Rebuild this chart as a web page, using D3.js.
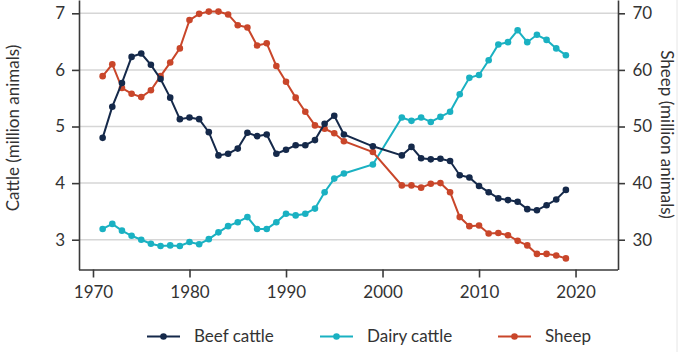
<!DOCTYPE html>
<html>
<head>
<meta charset="utf-8">
<script src="https://cdn.jsdelivr.net/npm/d3@7"></script>
<style>
  html, body { margin: 0; padding: 0; background: #fff; }
  svg { display: block; font-family: Lato, "Open Sans", sans-serif; }
</style>
</head>
<body>
<svg id="chart" width="679" height="352"></svg>
<script>
const years = [1971,1972,1973,1974,1975,1976,1977,1978,1979,1980,1981,1982,1983,1984,1985,1986,1987,1988,1989,1990,1991,1992,1993,1994,1995,1996,1999,2002,2003,2004,2005,2006,2007,2008,2009,2010,2011,2012,2013,2014,2015,2016,2017,2018,2019];
const beefCattle = [4.80,5.35,5.77,6.23,6.29,6.09,5.84,5.51,5.13,5.16,5.13,4.90,4.49,4.52,4.61,4.89,4.83,4.86,4.52,4.59,4.67,4.67,4.76,5.05,5.19,4.86,4.65,4.49,4.64,4.44,4.42,4.43,4.39,4.14,4.10,3.95,3.84,3.73,3.70,3.67,3.54,3.52,3.61,3.71,3.88];
const dairyCattle = [3.19,3.28,3.16,3.07,3.00,2.93,2.89,2.90,2.89,2.96,2.92,3.01,3.13,3.24,3.31,3.40,3.19,3.19,3.31,3.46,3.43,3.46,3.55,3.84,4.08,4.17,4.33,5.16,5.10,5.16,5.08,5.17,5.26,5.57,5.86,5.91,6.17,6.45,6.49,6.70,6.49,6.62,6.53,6.38,6.26];
const sheep = [58.9,61.0,56.8,55.8,55.2,56.4,58.9,61.3,63.8,68.8,69.9,70.3,70.3,69.8,67.9,67.5,64.3,64.7,60.7,57.9,55.1,52.6,50.2,49.6,48.8,47.4,45.5,39.6,39.6,39.2,39.9,40.0,38.4,34.0,32.4,32.5,31.1,31.2,30.8,29.8,29.0,27.5,27.5,27.2,26.7];
const xTicks = [1970,1980,1990,2000,2010,2020];
const cattleTicks = [3,4,5,6,7];
const sheepTicks = [30,40,50,60,70];
const seriesNames = ["Beef cattle","Dairy cattle","Sheep"];
const seriesColors = ["#15294a","#1ab1c2","#c9462a"];

const svg = d3.select("#chart");
const L = 79, R = 618, T = 0, B = 269.5;
const x = d3.scaleLinear().domain([1968.55, 2024.4]).range([L, R]);
const yC = d3.scaleLinear().domain([2.474, 7.235]).range([B, T]);
const yS = d3.scaleLinear().domain([24.74, 72.35]).range([B, T]);
const textColor = "#333";

// gridlines
svg.append("g").selectAll("line").data(cattleTicks).join("line")
  .attr("x1", L).attr("x2", R)
  .attr("y1", d => yC(d)).attr("y2", d => yC(d))
  .attr("stroke", "#d6d6d6").attr("stroke-width", 1.5);

// axes
const ax = svg.append("g").attr("transform", `translate(0,${B})`)
  .call(d3.axisBottom(x).tickValues(xTicks).tickFormat(d3.format("d")).tickSize(8).tickSizeOuter(0).tickPadding(8));
const ayL = svg.append("g").attr("transform", `translate(${L},0)`)
  .call(d3.axisLeft(yC).tickValues(cattleTicks).tickFormat(d3.format("d")).tickSize(7).tickSizeOuter(0).tickPadding(7));
const ayR = svg.append("g").attr("transform", `translate(${R},0)`)
  .call(d3.axisRight(yS).tickValues(sheepTicks).tickFormat(d3.format("d")).tickSize(7).tickSizeOuter(0).tickPadding(7.5));
[ax, ayL, ayR].forEach(g => {
  g.select(".domain").attr("stroke", "#3a3a3a").attr("stroke-width", 1.6);
  g.selectAll(".tick line").attr("stroke", "#3a3a3a").attr("stroke-width", 1.6);
  g.selectAll("text").attr("fill", textColor).style("font-size", "17px").style("font-family", "Lato, sans-serif");
});
ax.select(".domain").attr("d", `M${L},0.5H${R}`);

// axis titles
svg.append("text").attr("transform", `translate(18.5,128) rotate(-90)`)
  .attr("text-anchor", "middle").attr("fill", textColor)
  .style("font-size", "17px").text("Cattle (million animals)");
svg.append("text").attr("transform", `translate(660.5,134.5) rotate(90)`)
  .attr("text-anchor", "middle").attr("fill", textColor)
  .style("font-size", "17px").text("Sheep (million animals)");

// series
const series = [
  {vals: beefCattle, y: yC},
  {vals: dairyCattle, y: yC},
  {vals: sheep, y: yS}
];
const order = [1, 2, 0];
order.forEach(i => {
  const s = series[i];
  const pts = years.map((yr, k) => [yr, s.vals[k]]);
  const g = svg.append("g");
  g.append("path").datum(pts)
    .attr("fill", "none").attr("stroke", seriesColors[i]).attr("stroke-width", 2)
    .attr("d", d3.line().x(d => x(d[0])).y(d => s.y(d[1])));
  g.selectAll("circle").data(pts).join("circle")
    .attr("cx", d => x(d[0])).attr("cy", d => s.y(d[1])).attr("r", 3.3)
    .attr("fill", seriesColors[i]);
});

// legend
const legX = [147, 320, 498];
const lg = svg.append("g");
seriesNames.forEach((name, i) => {
  const g = lg.append("g").attr("transform", `translate(${legX[i]},336.5)`);
  g.append("line").attr("x1", 0).attr("x2", 33).attr("stroke", seriesColors[i]).attr("stroke-width", 2);
  g.append("circle").attr("cx", 16.5).attr("r", 3.3).attr("fill", seriesColors[i]);
  g.append("text").attr("x", 47).attr("dy", "0.35em").attr("fill", textColor)
    .style("font-size", "17px").text(name);
});

svg.append("line").attr("x1", 677).attr("x2", 677).attr("y1", 0).attr("y2", 352)
  .attr("stroke", "#e6e6e6").attr("stroke-width", 1);
</script>
</body>
</html>
